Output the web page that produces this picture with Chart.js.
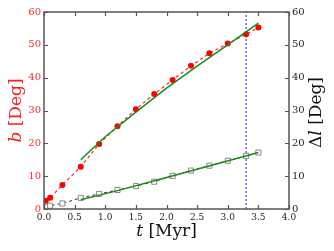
<!DOCTYPE html>
<html>
<head>
<meta charset="utf-8">
<script src="https://cdn.jsdelivr.net/npm/chart.js@4"></script>
<style>
  html, body { margin: 0; padding: 0; background: #fff; }
  #wrap { width: 334px; height: 251px; }
</style>
</head>
<body>
<div id="wrap"><canvas id="c" width="334" height="251"></canvas></div>
<script>
// measured points
const tVals  = [0.03, 0.1, 0.3, 0.6, 0.9, 1.2, 1.5, 1.8, 2.1, 2.4, 2.7, 3.0, 3.3, 3.5];
const bVals  = [2.5, 3.4, 7.3, 12.9, 19.8, 25.2, 30.4, 35.0, 39.3, 43.6, 47.4, 50.4, 53.2, 55.3];
const dlVals = [0.6, 1.0, 1.7, 3.4, 4.6, 5.8, 7.0, 8.3, 10.1, 11.7, 13.2, 14.7, 16.2, 17.2];

// green fit curves
const fitBT  = [0.6, 1.0, 1.5, 2.0, 2.5, 3.0, 3.5];
const fitB   = [15.0, 22.0, 29.5, 36.8, 43.5, 50.0, 56.6];
const fitDlT = [0.6, 1.2, 2.0, 2.8, 3.5];
const fitDl  = [2.8, 5.6, 9.6, 13.6, 17.2];

const markerT = 3.3;
const yTicks = [0, 10, 20, 30, 40, 50, 60];
const xTicks = [0, 0.5, 1, 1.5, 2, 2.5, 3, 3.5, 4];

const FONT = "'DejaVu Serif', serif";
const pts = (xs, ys) => xs.map((x, i) => ({ x, y: ys[i] }));

// inward ticks, frame and mixed-style axis titles
const framePlugin = {
  id: 'frame',
  afterDraw(chart) {
    const { ctx: c, chartArea: a, scales: { x, y, y2 } } = chart;
    c.save();
    c.strokeStyle = '#555'; c.lineWidth = 1.5;
    c.strokeRect(a.left, a.top, a.right - a.left, a.bottom - a.top);
    c.lineWidth = 1.2;
    c.beginPath();
    xTicks.forEach(v => {
      const px = Math.round(x.getPixelForValue(v)) + 0.5;
      c.moveTo(px, a.bottom); c.lineTo(px, a.bottom - 4);
      c.moveTo(px, a.top); c.lineTo(px, a.top + 4);
    });
    yTicks.forEach(v => {
      const py = Math.round(y.getPixelForValue(v)) + 0.5;
      c.moveTo(a.left, py); c.lineTo(a.left + 4, py);
      const py2 = Math.round(y2.getPixelForValue(v)) + 0.5;
      c.moveTo(a.right, py2); c.lineTo(a.right - 4, py2);
    });
    c.stroke();

    const title = (parts, cx, cy, rot, color) => {
      c.save();
      c.translate(cx, cy); c.rotate(rot);
      c.fillStyle = color; c.textBaseline = 'middle'; c.textAlign = 'left';
      let w = 0;
      parts.forEach(p => { c.font = (p.it ? 'italic ' : '') + '17px ' + FONT; w += c.measureText(p.s).width; });
      let px = -w / 2;
      parts.forEach(p => {
        c.font = (p.it ? 'italic ' : '') + '17px ' + FONT;
        c.fillText(p.s, px, 0);
        px += c.measureText(p.s).width;
      });
      c.restore();
    };
    const midY = (a.top + a.bottom) / 2;
    title([{ s: 'b', it: true }, { s: ' [Deg]' }], 17, midY, -Math.PI / 2, '#ff1a1a');
    title([{ s: 'Δ' }, { s: 'l', it: true }, { s: ' [Deg]' }], 317, midY + 2, -Math.PI / 2, '#111');
    title([{ s: 't', it: true }, { s: ' [Myr]' }], (a.left + a.right) / 2, 232, 0, '#111');
    c.restore();
  }
};

new Chart(document.getElementById('c'), {
  type: 'scatter',
  data: {
    datasets: [
      { label: 'fit b', data: pts(fitBT, fitB), showLine: true, borderColor: '#1a8a1a', borderWidth: 1.5,
        pointRadius: 0, yAxisID: 'y', order: 1 },
      { label: 'fit dl', data: pts(fitDlT, fitDl), showLine: true, borderColor: '#1a8a1a', borderWidth: 1.5,
        pointRadius: 0, yAxisID: 'y2', order: 1 },
      { label: 'b', data: pts(tVals, bVals), showLine: true, borderColor: '#ff2020', borderWidth: 1.2,
        borderDash: [3, 3], pointRadius: 3, pointBackgroundColor: '#ff0000', pointBorderWidth: 0,
        yAxisID: 'y', order: 2 },
      { label: 'dl', data: pts(tVals, dlVals), showLine: true, borderColor: '#333', borderWidth: 1,
        borderDash: [3, 3], pointStyle: 'rect', pointRadius: 3.6, pointBorderColor: '#888',
        pointBackgroundColor: '#fff', pointBorderWidth: 1, yAxisID: 'y2', order: 2 },
      { label: 'marker', data: [{ x: markerT, y: 0 }, { x: markerT, y: 60 }], showLine: true,
        borderColor: '#5050ff', borderWidth: 1.3, borderDash: [2, 2], pointRadius: 0,
        yAxisID: 'y', order: 3 },
    ]
  },
  options: {
    responsive: false, animation: false,
    layout: { padding: { top: 12 } },
    plugins: { legend: { display: false }, tooltip: { enabled: false } },
    scales: {
      x: {
        type: 'linear', min: 0, max: 4,
        afterBuildTicks: s => { s.ticks = xTicks.map(v => ({ value: v })); },
        afterFit: s => { s.height = 42; },
        grid: { display: false, drawTicks: false }, border: { display: false },
        ticks: { padding: 3, color: '#222', font: { family: FONT, size: 9 }, callback: v => v.toFixed(1) }
      },
      y: {
        position: 'left', min: 0, max: 60,
        afterBuildTicks: s => { s.ticks = yTicks.map(v => ({ value: v })); },
        afterFit: s => { s.width = 44; },
        grid: { display: false, drawTicks: false }, border: { display: false },
        ticks: { padding: 3, color: '#ff2a2a', font: { family: FONT, size: 10 } }
      },
      y2: {
        position: 'right', min: 0, max: 60,
        afterBuildTicks: s => { s.ticks = yTicks.map(v => ({ value: v })); },
        afterFit: s => { s.width = 45; },
        grid: { display: false, drawTicks: false }, border: { display: false },
        ticks: { padding: 3, color: '#222', font: { family: FONT, size: 10 } }
      }
    }
  },
  plugins: [framePlugin]
});
</script>
</body>
</html>
